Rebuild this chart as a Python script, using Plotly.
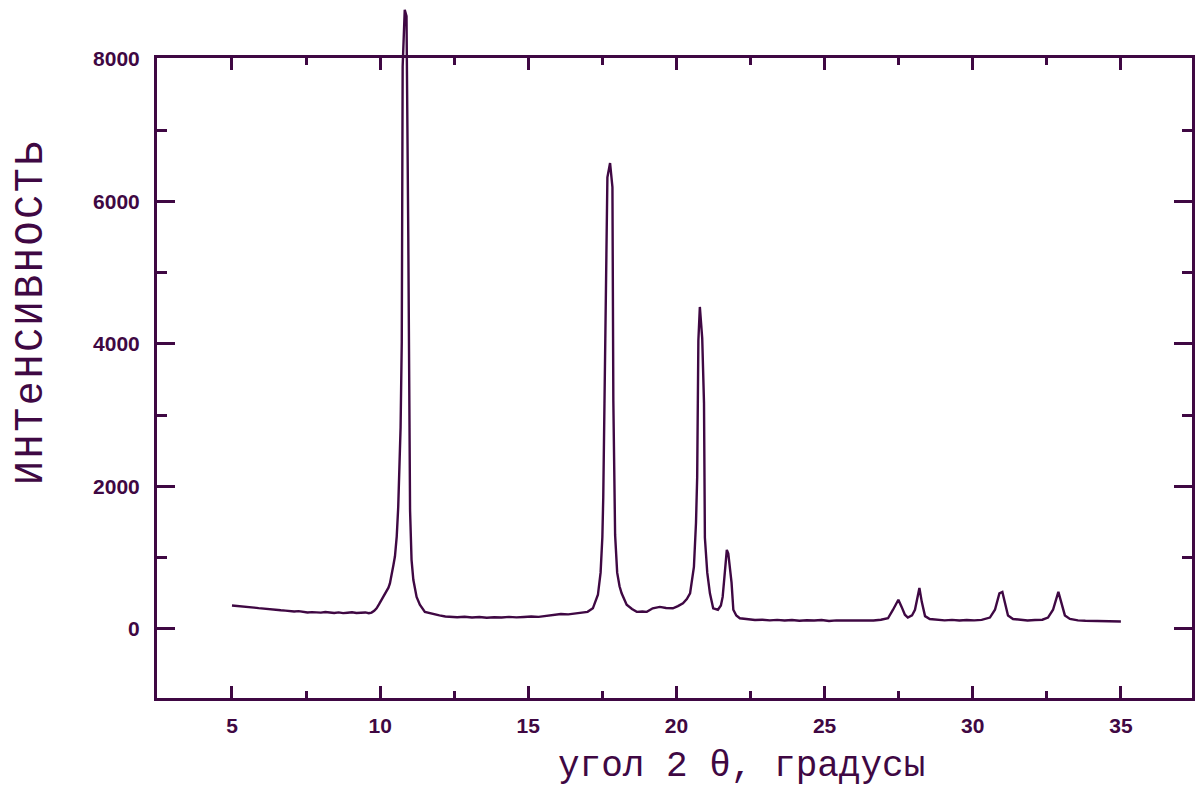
import plotly.graph_objects as go

# ---- data ----
two_theta = [
    5.00, 5.15, 5.30, 5.45, 5.60, 5.75, 5.90, 6.05, 6.20, 6.35, 6.50, 6.65, 6.80, 6.95,
    7.10, 7.25, 7.40, 7.55, 7.70, 7.85, 8.00, 8.15, 8.30, 8.45, 8.60, 8.75, 8.90, 9.05,
    9.20, 9.35, 9.50, 9.62, 9.71, 9.80, 9.88, 9.96, 10.05, 10.14, 10.22, 10.28, 10.33,
    10.39, 10.45, 10.50, 10.56, 10.61, 10.65, 10.69, 10.73, 10.76, 10.83, 10.89, 10.95,
    11.01, 11.06, 11.12, 11.23, 11.34, 11.51, 11.78, 12.00, 12.20, 12.36, 12.60, 12.85,
    13.10, 13.35, 13.60, 13.85, 14.10, 14.35, 14.60, 14.85, 15.10, 15.35, 15.60, 15.85,
    16.10, 16.35, 16.60, 16.80, 17.00, 17.18, 17.27, 17.35, 17.44, 17.50, 17.53, 17.59,
    17.67, 17.76, 17.84, 17.87, 17.93, 18.00, 18.08, 18.15, 18.32, 18.50, 18.66, 18.85,
    19.00, 19.20, 19.44, 19.65, 19.88, 20.05, 20.22, 20.35, 20.46, 20.59, 20.66, 20.70,
    20.74, 20.79, 20.87, 20.93, 20.96, 21.04, 21.13, 21.24, 21.40, 21.50, 21.56, 21.62,
    21.70, 21.75, 21.81, 21.86, 21.92, 22.02, 22.14, 22.40, 22.65, 22.90, 23.15, 23.40,
    23.65, 23.90, 24.15, 24.40, 24.65, 24.90, 25.15, 25.40, 25.65, 25.90, 26.15, 26.40,
    26.65, 26.90, 27.14, 27.31, 27.49, 27.60, 27.71, 27.81, 27.95, 28.05, 28.14, 28.20,
    28.28, 28.39, 28.55, 28.80, 29.05, 29.30, 29.55, 29.80, 30.05, 30.30, 30.58, 30.75,
    30.90, 31.00, 31.09, 31.19, 31.36, 31.60, 31.85, 32.10, 32.35, 32.54, 32.71, 32.89,
    33.00, 33.11, 33.28, 33.55, 33.80, 34.05, 34.30, 34.55, 34.80, 35.00,
]
intensity = [
    330, 325, 315, 318, 305, 300, 292, 285, 275, 268, 270, 262, 258, 252,
    245, 250, 240, 232, 236, 228, 230, 238, 230, 225, 232, 222, 228, 235,
    224, 226, 232, 222, 230, 255, 290, 345, 410, 465, 520, 580, 640,
    800, 900, 1020, 1300, 1710, 2170, 2830, 4030, 7890, 8690, 8600, 5490,
    1660, 970, 690, 450, 340, 240, 210, 190, 175, 170, 165, 172,
    160, 168, 158, 165, 160, 170, 162, 168, 175, 170, 185, 200,
    210, 205, 220, 228, 240, 290, 380, 480, 790, 1290, 1850, 4100,
    6340, 6540, 6200, 3210, 1320, 790, 600, 500, 340, 280, 240, 245,
    240, 290, 310, 295, 290, 320, 360, 420, 500, 870, 1490, 2130,
    4050, 4520, 4080, 3170, 1280, 790, 500, 290, 270, 330, 450, 730,
    1110, 1060, 860, 650, 270, 190, 150, 135, 125, 130, 120, 128,
    118, 125, 115, 122, 118, 125, 112, 120, 118, 125, 115, 122,
    118, 130, 150, 270, 410, 310, 200, 160, 190, 270, 480, 575,
    380, 180, 140, 125, 120, 128, 118, 125, 120, 128, 160, 270,
    500, 520, 350, 190, 140, 125, 118, 125, 130, 160, 270, 520,
    350, 190, 140, 120, 115, 112, 115, 108, 110, 105,
]
x_ticks = [5, 10, 15, 20, 25, 30, 35]
y_ticks = [0, 2000, 4000, 6000, 8000]
x_title = "угол 2 θ, градусы"
y_title = "ИНТеНСИВНОСТЬ"

INK = "#3f0843"
W, H = 1196, 787
ML, MR, MT, MB = 157, 4, 0, 89
plot_h = H - MT - MB
y_lo, y_hi = -969, 8014
frame_top_px = 58
ydom_top = (H - MB - frame_top_px) / plot_h
y2_hi = y_lo + (y_hi - y_lo) / ydom_top

fig = go.Figure()
fig.add_trace(go.Scatter(x=[], y=[], xaxis="x", yaxis="y", showlegend=False))
fig.add_trace(go.Scatter(
    x=two_theta, y=intensity, mode="lines", xaxis="x", yaxis="y2",
    line=dict(color=INK, width=2.4), showlegend=False, hoverinfo="skip",
))

tickfont = dict(family="Liberation Sans Narrow, Liberation Sans, Arial, sans-serif",
                size=21, color=INK, weight="bold")

fig.update_layout(
    width=W, height=H,
    margin=dict(l=ML, r=MR, t=MT, b=MB, pad=0, autoexpand=False),
    paper_bgcolor="white", plot_bgcolor="rgba(0,0,0,0)",
    xaxis=dict(
        range=[2.469, 37.40], anchor="y", automargin=False,
        tickmode="array", tickvals=x_ticks, ticktext=[str(v) for v in x_ticks],
        ticks="inside", ticklen=12, tickwidth=3, tickcolor=INK,
        minor=dict(dtick=2.5, tick0=0, ticks="inside", ticklen=7, tickwidth=3, tickcolor=INK),
        showline=True, linewidth=3, linecolor=INK, mirror="ticks",
        showgrid=False, zeroline=False, tickfont=tickfont, ticklabelstandoff=7,
    ),
    yaxis=dict(
        range=[y_lo, y_hi], domain=[0, ydom_top], anchor="x", automargin=False,
        tickmode="array", tickvals=y_ticks, ticktext=[str(v) for v in y_ticks],
        ticks="inside", ticklen=18, tickwidth=3, tickcolor=INK,
        minor=dict(dtick=1000, tick0=0, ticks="inside", ticklen=10, tickwidth=3, tickcolor=INK),
        showline=True, linewidth=3, linecolor=INK, mirror="ticks",
        showgrid=False, zeroline=False, tickfont=tickfont, ticklabelstandoff=10,
    ),
    yaxis2=dict(
        range=[y_lo, y2_hi], domain=[0, 1], anchor="x", automargin=False,
        visible=False, showgrid=False, zeroline=False,
    ),
    annotations=[
        dict(text=x_title, xref="paper", yref="paper",
             x=(741 - ML) / (W - ML - MR), y=(H - MB - 766) / plot_h,
             xanchor="center", yanchor="middle", showarrow=False,
             font=dict(family="Liberation Mono, Courier New, monospace", size=36, color=INK)),
        dict(text='<span style="letter-spacing:2.6px">' + y_title + '</span>',
             xref="paper", yref="paper",
             x=(31 - ML) / (W - ML - MR), y=(H - MB - 312) / plot_h,
             xanchor="center", yanchor="middle", showarrow=False, textangle=-90,
             font=dict(family="Liberation Mono, Courier New, monospace", size=40, color=INK)),
    ],
)

fig.write_html("out.html", config={"displayModeBar": False},
               post_script="document.body.style.margin='0';")
